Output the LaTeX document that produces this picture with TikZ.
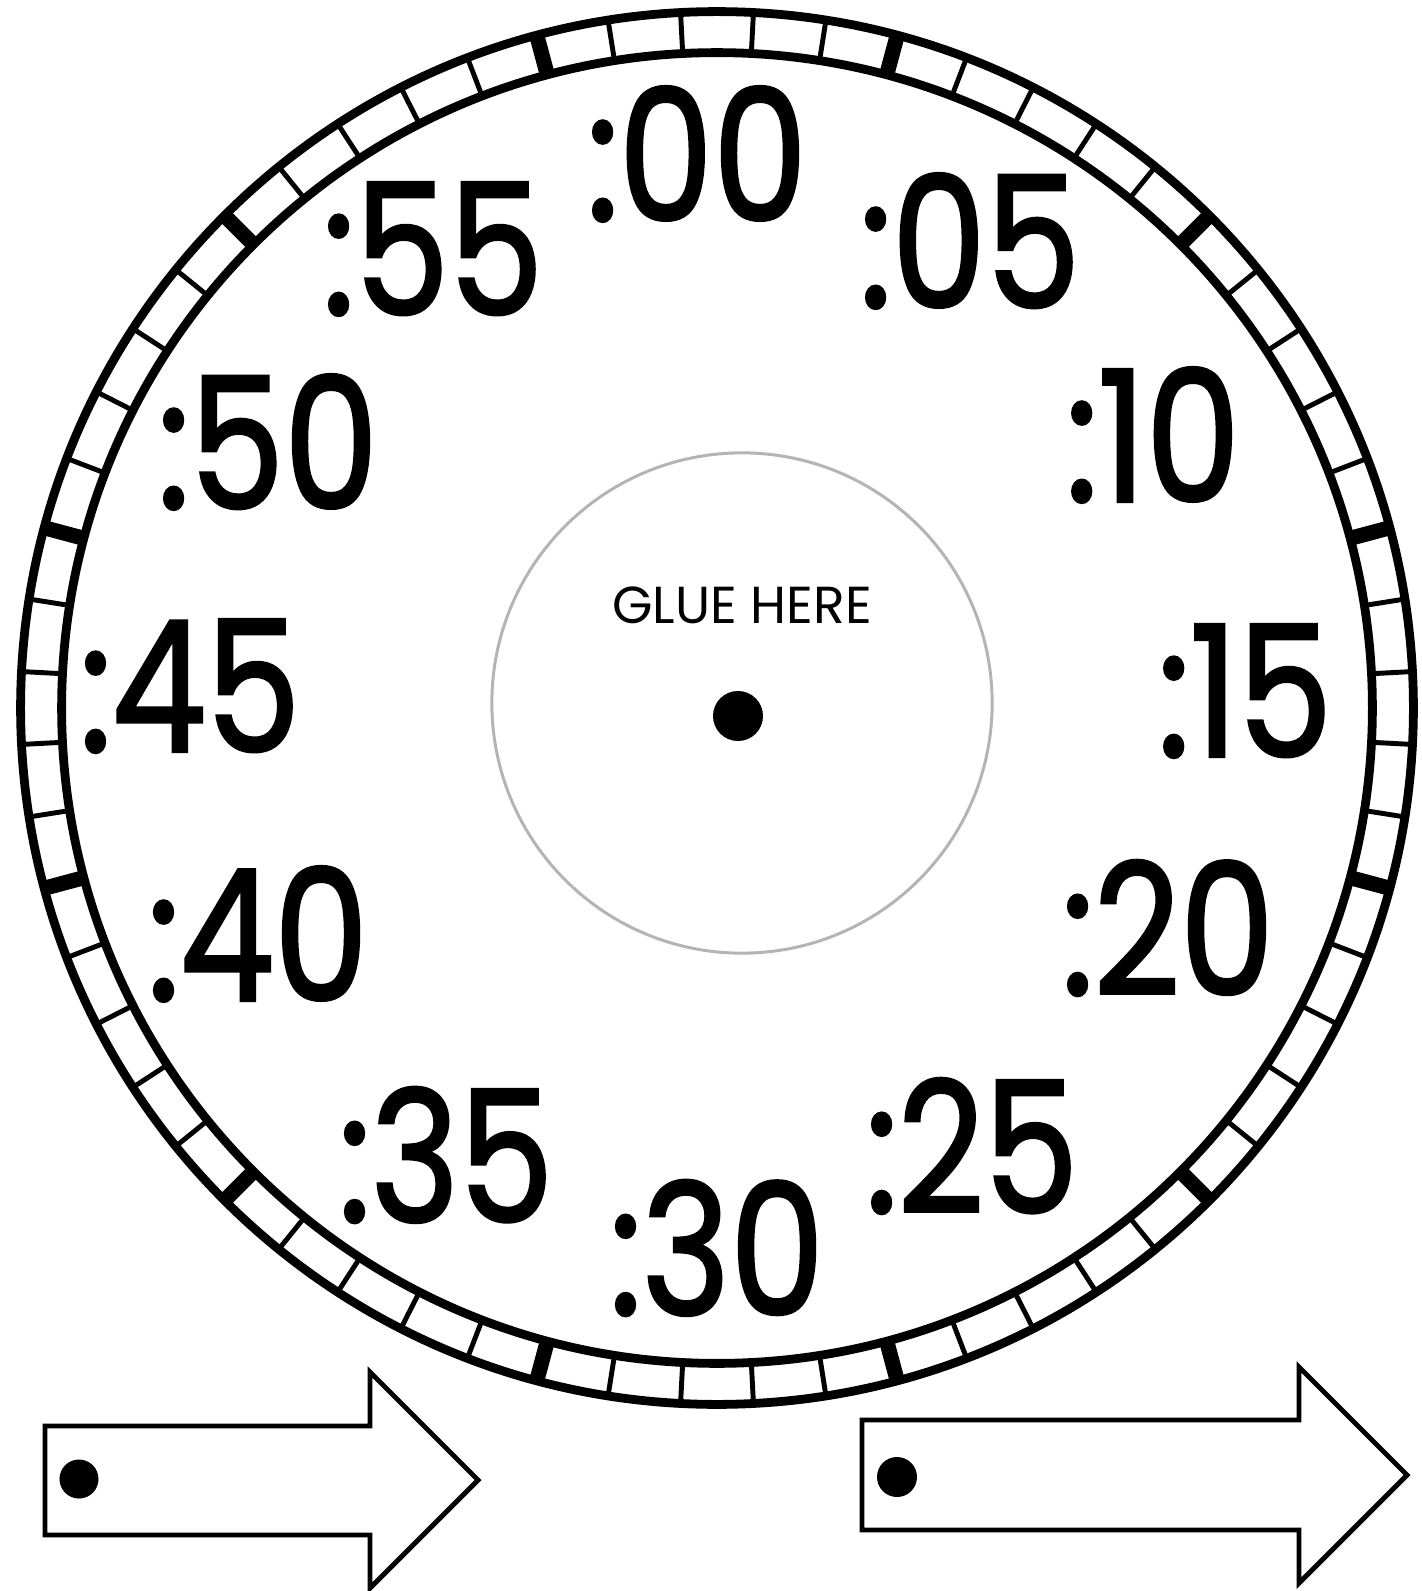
\documentclass[tikz,border=0pt]{standalone}
\usepackage{fontspec}
\newfontfamily\clockfont[FakeStretch=0.82, FakeBold=1.6]{Poppins}
\newfontfamily\gluefont{Poppins}
\definecolor{inkdark}{HTML}{000000}
\definecolor{inkglue}{HTML}{B4B4B4}
\newcommand{\minlabel}[3]{%
  \node[font=\clockfont\fontsize{52}{56}\selectfont, inner sep=0pt,
        text=inkdark] (#1) at (#2) {#3};}
\begin{document}
\begin{tikzpicture}[x=0.01cm, y=-0.01cm]
  \useasboundingbox (0,0) rectangle (1421,1591);
  \coordinate (face) at (717,708);
  % minute ticks in the ring
  \foreach \k in {0,...,59}{
    \pgfmathtruncatemacro\thick{mod(\k,5)==2 ? 1 : 0}
    \ifnum\thick=1
      \draw[inkdark, line width=4.3pt] (face) ++(87-6*\k:6.55cm) -- ++(87-6*\k:0.41cm);
    \else
      \draw[inkdark, line width=1.4pt] (face) ++(87-6*\k:6.55cm) -- ++(87-6*\k:0.41cm);
    \fi
  }
  \draw[inkdark, line width=2.5pt] (face) circle[radius=6.96cm];
  \draw[inkdark, line width=2.5pt] (face) circle[radius=6.55cm];
  % glue area
  \draw[inkglue, line width=0.85pt] (742,703) circle[radius=2.50cm];
  \node[circle, fill=inkdark, minimum size=0.5cm, inner sep=0pt] (hub) at (738,716) {};
  \node[font=\gluefont\fontsize{14.8}{16}\selectfont, inner sep=0pt] (glue) at (742,605) {GLUE HERE};
  % minute numbers
  \minlabel{m00}{697,154}{:00}
  \minlabel{m05}{970,241}{:05}
  \minlabel{m10}{1153,435}{:10}
  \minlabel{m15}{1245,691}{:15}
  \minlabel{m20}{1168,928}{:20}
  \minlabel{m25}{972,1146}{:25}
  \minlabel{m30}{717,1248}{:30}
  \minlabel{m35}{446,1155}{:35}
  \minlabel{m40}{258,934}{:40}
  \minlabel{m45}{190,686}{:45}
  \minlabel{m50}{268,442}{:50}
  \minlabel{m55}{433,249}{:55}
  % hands to cut out
  \draw[inkdark, line width=1.4pt, fill=white] (45,1426) -- (370,1426) -- (370,1372) -- (478,1480)
    -- (370,1588) -- (370,1535) -- (45,1535) -- cycle;
  \node[circle, fill=inkdark, minimum size=0.39cm, inner sep=0pt] (pinL) at (79,1479) {};
  \draw[inkdark, line width=1.4pt, fill=white] (862,1420) -- (1299,1420) -- (1299,1367) -- (1407,1475)
    -- (1299,1583) -- (1299,1530) -- (862,1530) -- cycle;
  \node[circle, fill=inkdark, minimum size=0.40cm, inner sep=0pt] (pinR) at (897,1477) {};
\end{tikzpicture}
\end{document}
